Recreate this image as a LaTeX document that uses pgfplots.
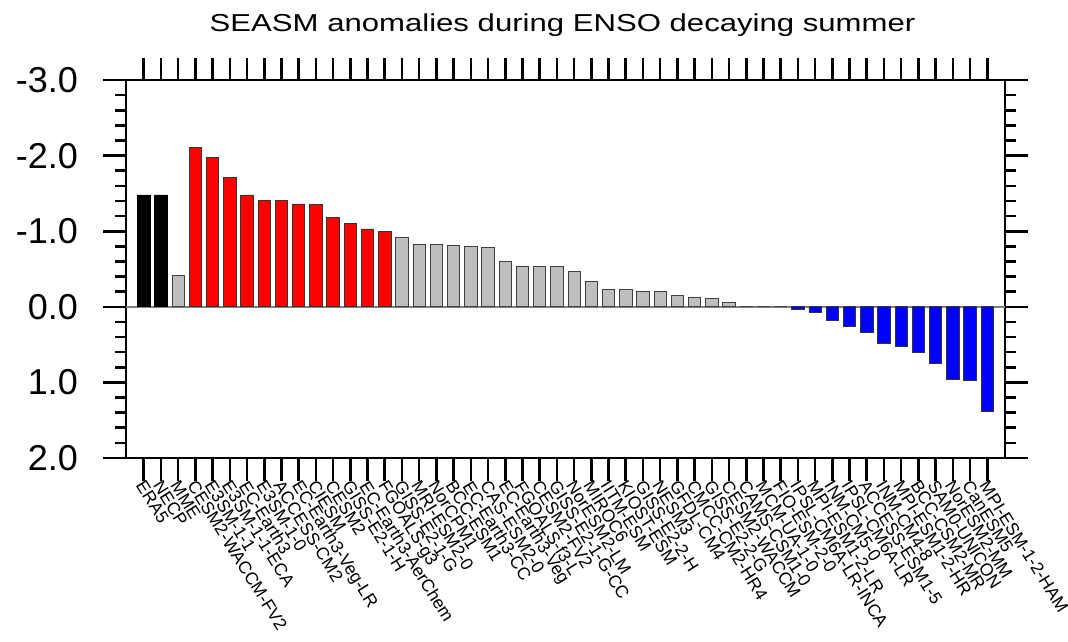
\documentclass[border=0pt]{standalone}
\usepackage{pgfplots}
\pgfplotsset{compat=1.18}
\usepackage{pgfplotstable}
\usepackage{fontspec}
\setmainfont{Liberation Sans}

\pgfplotstableread{
x y
0 -1.48
1 -1.48
}\obsdata
\pgfplotstableread{
x y
3 -2.11
4 -1.98
5 -1.71
6 -1.48
7 -1.41
8 -1.41
9 -1.36
10 -1.35
11 -1.18
12 -1.10
13 -1.03
14 -1.00
}\reddata
\pgfplotstableread{
x y
2 -0.42
15 -0.92
16 -0.83
17 -0.83
18 -0.81
19 -0.80
20 -0.79
21 -0.60
22 -0.54
23 -0.53
24 -0.53
25 -0.47
26 -0.34
27 -0.23
28 -0.23
29 -0.20
30 -0.20
31 -0.15
32 -0.13
33 -0.11
34 -0.06
35 -0.01
36 0.00
37 0.00
}\greydata
\pgfplotstableread{
x y
38 0.04
39 0.07
40 0.18
41 0.26
42 0.34
43 0.48
44 0.52
45 0.60
46 0.75
47 0.96
48 0.98
49 1.39
}\bluedata

\definecolor{barred}{RGB}{255,0,0}
\definecolor{barblue}{RGB}{0,0,255}
\definecolor{bargrey}{RGB}{190,190,190}

\begin{document}
\begin{tikzpicture}
\begin{axis}[
  scale only axis, width=879pt, height=378pt,
  xmin=-1.03, xmax=50.03,
  ymin=-3, ymax=2, y dir=reverse,
  axis line style={line width=2.6pt},
  tick align=outside,
  major tick length=22.5pt,
  minor tick length=11pt,
  xtick={0,...,49},
  xticklabels={ERA5,NECP,MME,CESM2-WACCM-FV2,E3SM-1-1,E3SM-1-1-ECA,EC-Earth3,E3SM-1-0,ACCESS-CM2,EC-Earth3-Veg-LR,CIESM,CESM2,GISS-E2-1-H,EC-Earth3-AerChem,FGOALS-g3,GISS-E2-1-G,MRI-ESM2-0,NorCPM1,BCC-ESM1,EC-Earth3-CC,CAS-ESM2-0,EC-Earth3-Veg,FGOALS-f3-L,CESM2-FV2,GISS-E2-1-G-CC,NorESM2-LM,MIROC6,IITM-ESM,KIOST-ESM,GISS-E2-2-H,NESM3,GFDL-CM4,CMCC-CM2-HR4,GISS-E2-2-G,CESM2-WACCM,CAMS-CSM1-0,MCM-UA-1-0,FIO-ESM-2-0,IPSL-CM6A-LR-INCA,MPI-ESM1-2-LR,INM-CM5-0,IPSL-CM6A-LR,ACCESS-ESM1-5,INM-CM4-8,MPI-ESM1-2-HR,BCC-CSM2-MR,SAM0-UNICON,NorESM2-MM,CanESM5,MPI-ESM-1-2-HAM},
  xticklabel style={font=\fontsize{17.5}{18}\selectfont, rotate=-58, anchor=west, inner sep=1pt, yshift=-4pt, xshift=-1pt},
  xtick style={line width=2.6pt, black},
  ytick={-3,-2,-1,0,1,2},
  yticklabels={-3.0,-2.0,-1.0,0.0,1.0,2.0},
  minor ytick={-2.8,-2.6,-2.4,-2.2,-1.8,-1.6,-1.4,-1.2,-0.8,-0.6,-0.4,-0.2,0.2,0.4,0.6,0.8,1.2,1.4,1.6,1.8},
  yticklabel style={font=\fontsize{36}{38}\selectfont, anchor=east, xshift=-22pt},
  ytick style={line width=2.6pt, black},
  minor tick style={line width=1.6pt, black},
  clip=false,
]
\coordinate (BL) at (axis cs:-1.03,2);
\addplot[gray, line width=1.5pt, forget plot] coordinates {(-1.03,0) (50.03,0)};
\addplot[ybar, bar width=0.72, bar shift=0pt, fill=black, draw=black, line width=0.8pt] table[x=x,y=y] {\obsdata};
\addplot[ybar, bar width=0.72, bar shift=0pt, fill=barred, draw=black!80, line width=0.8pt] table[x=x,y=y] {\reddata};
\addplot[ybar, bar width=0.72, bar shift=0pt, fill=bargrey, draw=black!75, line width=0.8pt] table[x=x,y=y] {\greydata};
\addplot[ybar, bar width=0.72, bar shift=0pt, fill=barblue, draw=black!80, line width=0.8pt] table[x=x,y=y] {\bluedata};
\end{axis}
\pgfresetboundingbox
\path[use as bounding box] ([shift={(-126pt,-183pt)}]BL) rectangle ++(1068pt,641pt);
\node[font=\fontsize{24.5}{28}\selectfont, anchor=base, xscale=1.27, inner sep=0pt] at ([shift={(436.5pt,426.3pt)}]BL) {SEASM anomalies during ENSO decaying summer};
\end{tikzpicture}
\end{document}
